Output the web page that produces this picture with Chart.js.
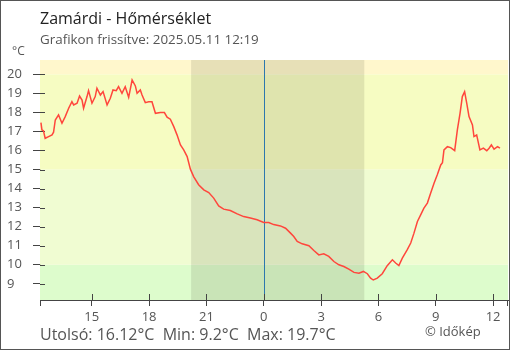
<!DOCTYPE html>
<html>
<head>
<meta charset="utf-8">
<script src="https://cdn.jsdelivr.net/npm/chart.js@4/dist/chart.umd.min.js"></script>
<style>
  body { margin: 0; background: #fff; }
  canvas { display: block; }
</style>
</head>
<body>
<canvas id="myChart" width="510" height="350"></canvas>
<script>
// adatok: órák (előző nap éjféltől), hőmérséklet °C
const hours = [
  12.34, 12.39, 12.47, 12.56, 12.74, 12.92, 13.00, 13.09, 13.26, 13.44,
  13.61, 13.79, 13.96, 14.05, 14.23, 14.36, 14.49, 14.57, 14.75, 14.83,
  15.01, 15.18, 15.27, 15.45, 15.59, 15.80, 15.97, 16.11, 16.28, 16.40,
  16.58, 16.75, 16.93, 17.11, 17.28, 17.37, 17.54, 17.63, 17.80, 17.98,
  18.15, 18.33, 18.59, 18.80, 18.94, 19.11, 19.29, 19.46, 19.64, 19.81,
  19.99, 20.16, 20.33, 20.59, 20.86, 21.12, 21.38, 21.64, 21.90, 22.25,
  22.61, 22.95, 23.30, 23.65, 24.00, 24.26, 24.52, 24.87, 25.14, 25.40,
  25.57, 25.75, 26.01, 26.36, 26.62, 26.88, 27.14, 27.40, 27.67, 27.93,
  28.19, 28.45, 28.72, 28.98, 29.21, 29.42, 29.59, 29.73, 29.94, 30.20,
  30.46, 30.73, 30.90, 31.07, 31.25, 31.51, 31.69, 31.86, 32.04, 32.21,
  32.38, 32.56, 32.73, 32.91, 33.08, 33.26, 33.35, 33.43, 33.61, 33.78,
  33.99, 34.13, 34.27, 34.39, 34.51, 34.62, 34.74, 34.92, 35.00, 35.14,
  35.31, 35.49, 35.67, 35.79, 35.91, 36.05, 36.23, 36.36
];
const temps = [
  17.46, 17.08, 17.04, 16.64, 16.73, 16.82, 16.96, 17.60, 17.87, 17.43,
  17.78, 18.22, 18.56, 18.39, 18.48, 18.86, 18.65, 18.22, 18.83, 19.14,
  18.48, 18.83, 19.27, 18.91, 19.09, 18.39, 18.74, 19.18, 19.14, 19.35,
  19.00, 19.35, 18.79, 19.70, 19.39, 19.00, 19.18, 18.91, 18.51, 18.56,
  18.56, 17.95, 17.99, 17.99, 17.75, 17.64, 17.25, 16.82, 16.29, 16.03,
  15.68, 15.02, 14.63, 14.20, 13.93, 13.79, 13.50, 13.09, 12.92, 12.85,
  12.67, 12.53, 12.45, 12.36, 12.22, 12.22, 12.11, 12.04, 11.92, 11.66,
  11.48, 11.22, 11.10, 11.00, 10.75, 10.52, 10.58, 10.44, 10.17, 10.00,
  9.91, 9.77, 9.60, 9.56, 9.65, 9.53, 9.30, 9.20, 9.30, 9.53,
  9.95, 10.26, 10.09, 9.96, 10.35, 10.79, 11.14, 11.66, 12.27, 12.62,
  12.97, 13.24, 13.76, 14.28, 14.72, 15.24, 15.36, 16.03, 16.20, 16.15,
  15.99, 17.08, 17.95, 18.83, 19.09, 18.48, 17.78, 17.34, 16.73, 16.82,
  16.03, 16.12, 15.99, 16.12, 16.29, 16.07, 16.20, 16.12
];

// tengelyek, sávok
const xMin = 12.29, xMax = 36.78;
const yMin = 8.15, yMax = 20.75;
const bandEdges = [10, 15, 20];
const bandColors = ['#DDFCCC', '#F0FCD2', '#F6FCC2', '#FFF7CC'];
const nightStart = 20.2, nightEnd = 29.26, midnight = 24;

// feliratok
const titleText = 'Zamárdi - Hőmérséklet';
const subtitleText = 'Grafikon frissítve: 2025.05.11 12:19';
const footerText = 'Utolsó: 16.12°C  Min: 9.2°C  Max: 19.7°C';
const creditText = '© Időkép';

const points = hours.map((h, i) => ({ x: h, y: temps[i] }));

// háttér sávok, éjszaka, éjfél vonal
const backgroundPlugin = {
    id: 'bands',
    beforeDatasetsDraw(chart) {
        const { ctx, chartArea: a, scales: { x, y } } = chart;
        ctx.save();
        const edges = [yMin, ...bandEdges, yMax];
        for (let i = 0; i < bandColors.length; i++) {
            const top = y.getPixelForValue(edges[i + 1]);
            const bottom = y.getPixelForValue(edges[i]);
            ctx.fillStyle = bandColors[i];
            ctx.fillRect(a.left, top, a.right - a.left, bottom - top);
        }
        const n1 = x.getPixelForValue(nightStart);
        const n2 = x.getPixelForValue(nightEnd);
        ctx.fillStyle = 'rgba(55,55,30,0.12)';
        ctx.fillRect(n1, a.top, n2 - n1, a.bottom - a.top);

        const m = Math.round(x.getPixelForValue(midnight)) + 0.5;
        ctx.strokeStyle = '#2C77AE';
        ctx.lineWidth = 1;
        ctx.beginPath();
        ctx.moveTo(m, a.top);
        ctx.lineTo(m, a.bottom);
        ctx.stroke();

        // osztásjelek belső része + szélső jelek
        ctx.strokeStyle = '#444';
        ctx.beginPath();
        y.ticks.forEach(t => {
            const py = Math.round(y.getPixelForValue(t.value)) + 0.5;
            ctx.moveTo(a.left, py);
            ctx.lineTo(a.left + 5, py);
        });
        x.ticks.forEach(t => {
            const px = Math.round(x.getPixelForValue(t.value)) + 0.5;
            ctx.moveTo(px, a.bottom);
            ctx.lineTo(px, a.bottom - 6);
        });
        [a.left, a.right - 1].forEach(px => {
            ctx.moveTo(Math.round(px) + 0.5, a.bottom);
            ctx.lineTo(Math.round(px) + 0.5, a.bottom + 6);
        });
        ctx.stroke();
        ctx.restore();
    },
    afterDraw(chart) {
        const { ctx } = chart;
        ctx.save();
        ctx.textBaseline = 'alphabetic';
        ctx.textAlign = 'left';
        ctx.fillStyle = '#222';
        ctx.font = "16px 'Open Sans', sans-serif";
        ctx.fillText(titleText, 40, 24);
        ctx.fillStyle = '#555';
        ctx.font = "13.4px 'Open Sans', sans-serif";
        ctx.fillText(subtitleText, 40, 44);
        ctx.font = "12px 'Open Sans', sans-serif";
        ctx.fillText('°C', 12, 55);
        ctx.font = "16px 'Open Sans', sans-serif";
        ctx.fillText(footerText, 40, 340);
        ctx.font = "13px 'Open Sans', sans-serif";
        ctx.fillText(creditText, 425, 336);
        ctx.strokeStyle = '#555';
        ctx.lineWidth = 1;
        ctx.strokeRect(0.5, 0.5, 509, 349);
        ctx.restore();
    }
};

Chart.defaults.font.family = "'Open Sans', sans-serif";
Chart.defaults.font.size = 13;
Chart.defaults.color = '#555';

const ctx = document.getElementById('myChart').getContext('2d');
const myChart = new Chart(ctx, {
    type: 'line',
    data: {
        datasets: [{
            data: points,
            borderColor: '#FF463C',
            borderWidth: 1.5,
            pointRadius: 0,
            tension: 0,
            fill: false
        }]
    },
    options: {
        responsive: false,
        animation: false,
        events: [],
        layout: { padding: { left: 7, top: 60, right: 2, bottom: 0 } },
        plugins: { legend: { display: false }, tooltip: { enabled: false } },
        scales: {
            x: {
                type: 'linear',
                min: xMin,
                max: xMax,
                afterFit: s => { s.height = 50; },
                border: { display: true, color: '#444' },
                grid: { drawOnChartArea: false, tickLength: 6, color: '#444' },
                ticks: {
                    stepSize: 3,
                    includeBounds: false,
                    maxRotation: 0,
                    autoSkip: false,
                    padding: 3,
                    callback: v => String(Math.round(v) % 24)
                }
            },
            y: {
                min: yMin,
                max: yMax,
                afterFit: s => { s.width = 33; },
                border: { display: true, color: '#444' },
                grid: { drawOnChartArea: false, tickLength: 7, color: '#444' },
                ticks: {
                    stepSize: 1,
                    includeBounds: false,
                    crossAlign: 'far',
                    autoSkip: false
                }
            }
        }
    },
    plugins: [backgroundPlugin]
});
</script>
</body>
</html>
